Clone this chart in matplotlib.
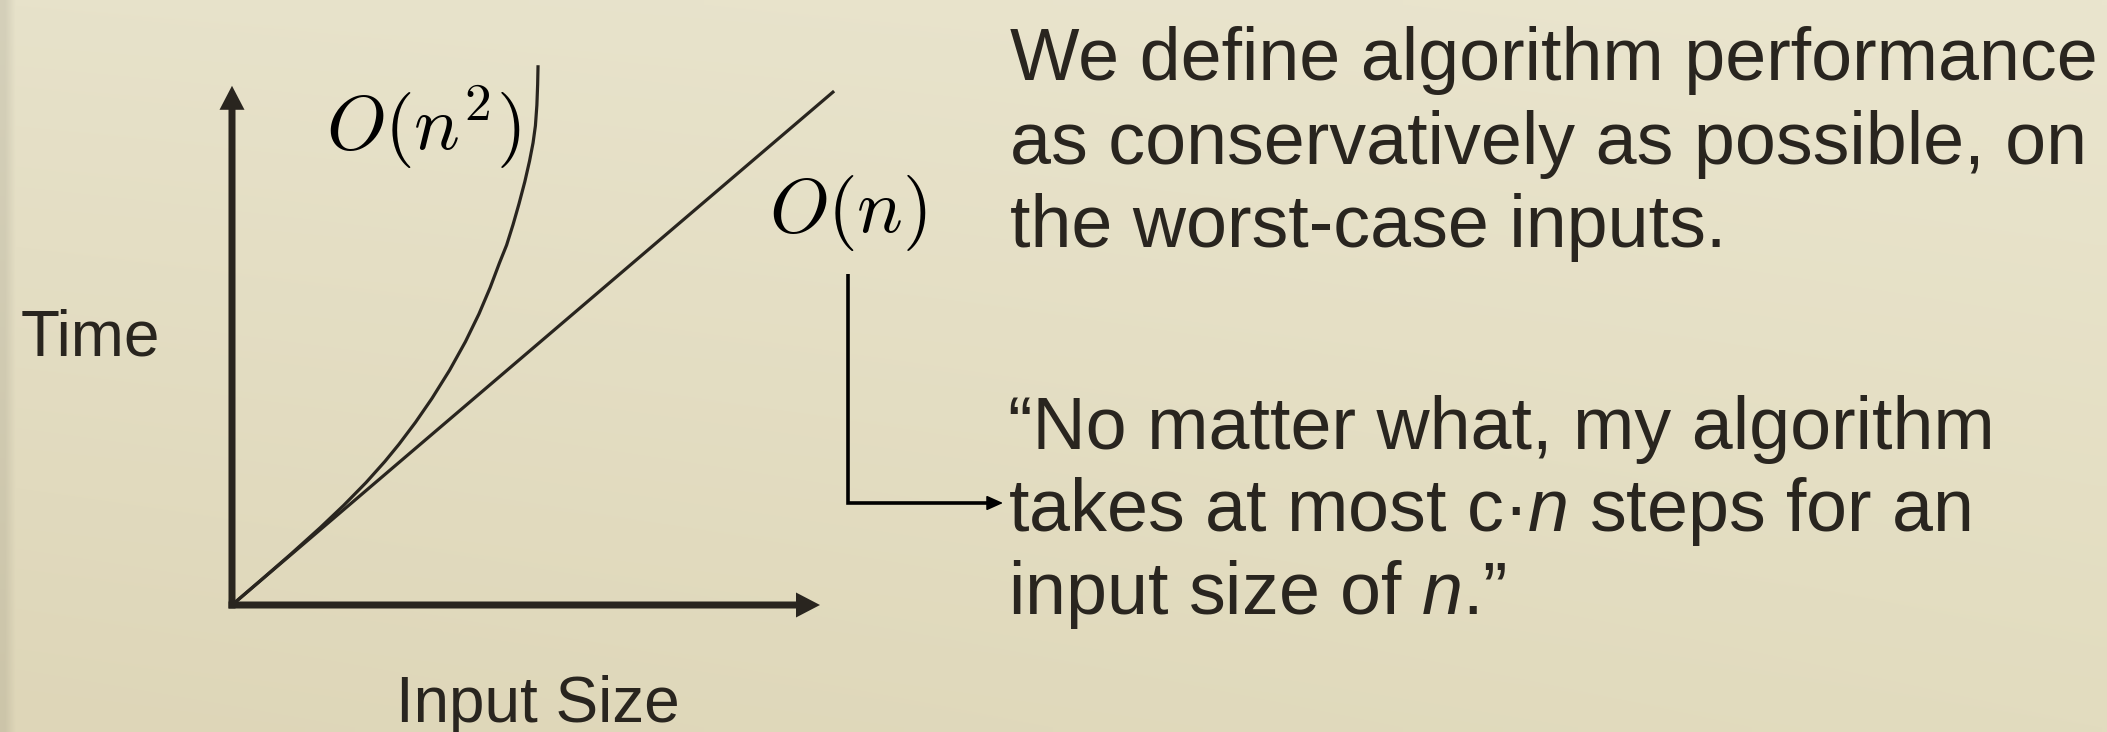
import numpy as np
import matplotlib
matplotlib.use("Agg")
import matplotlib.pyplot as plt
from matplotlib.lines import Line2D
from matplotlib.patches import FancyArrowPatch

W, H = 2107, 732
DPI = 100

INK = "#29251f"
SANS = "Liberation Sans"

# growth curves, in axis units (x axis arrow ends at 10)
lin_x = [0.0, 10.24]
lin_y = [0.0, 8.74]
quad_x = [0.0, 0.50, 1.00, 1.50, 1.90, 2.28, 2.60, 2.84, 3.12, 3.40, 3.70, 3.97,
	4.20, 4.39, 4.55, 4.67, 4.78, 4.88, 4.98, 5.06, 5.12, 5.16, 5.185, 5.198, 5.205]
quad_y = [0.0, 0.43, 0.865, 1.315, 1.695, 2.083, 2.441, 2.734, 3.106, 3.512, 3.992, 4.478,
	4.95, 5.397, 5.821, 6.12, 6.47, 6.82, 7.20, 7.55, 7.86, 8.15, 8.50, 8.85, 9.18]

x_axis_len = 10.0
y_axis_len = 8.83

axis_labels = ["Time", "Input Size"]
curve_labels = [r"$O(n^2)$", r"$O(n)$"]

para_top = [
	"We define algorithm performance",
	"as conservatively as possible, on",
	"the worst-case inputs.",
]
para_bottom = [
	"\u201cNo matter what, my algorithm",
	"takes at most c\u00b7$n$ steps for an",
	"input size of $n$.\u201d",
]

plt.rcParams["mathtext.fontset"] = "custom"
plt.rcParams["mathtext.rm"] = SANS
plt.rcParams["mathtext.it"] = SANS + ":italic"


def fx(px: float) -> float:
	return px / W


def fy(py: float) -> float:
	return 1 - py / H


def background(fig) -> None:
	bg = fig.add_axes([0, 0, 1, 1], zorder=-10)
	tl = np.array([231, 226, 202]) / 255
	tr = np.array([234, 229, 206]) / 255
	bl = np.array([222, 214, 184]) / 255
	br = np.array([226, 220, 191]) / 255
	u = np.linspace(0, 1, 200)[None, :, None]
	v = np.linspace(0, 1, 80)[:, None, None]
	img = (1 - v) * ((1 - u) * tl + u * tr) + v * ((1 - u) * bl + u * br)
	# darker strip on the left edge
	edge = np.clip(1 - u / 0.004, 0, 1) * 0.08
	img = img * (1 - edge)
	bg.imshow(img, aspect="auto", extent=[0, 1, 0, 1], interpolation="bilinear")
	bg.axis("off")


def graph(fig) -> None:
	unit = 58.8
	ox, oy = 232, 605
	left = ox - unit
	bottom = H - (oy + unit)
	ax = fig.add_axes([left / W, bottom / H, 12 * unit / W, 11 * unit / H])
	ax.set_xlim(-1, 11)
	ax.set_ylim(-1, 10)
	ax.axis("off")

	shaft = 7 / unit
	ax.arrow(-shaft / 2, 0, x_axis_len + shaft / 2, 0, width=shaft,
		head_width=25 / unit, head_length=24 / unit, length_includes_head=True,
		fc=INK, ec="none", zorder=3)
	ax.arrow(0, -shaft / 2, 0, y_axis_len + shaft / 2, width=shaft,
		head_width=25 / unit, head_length=24 / unit, length_includes_head=True,
		fc=INK, ec="none", zorder=3)

	ax.plot(lin_x, lin_y, color=INK, lw=2.3, solid_capstyle="butt", clip_on=False)
	ax.plot(quad_x, quad_y, color=INK, lw=2.3, solid_capstyle="butt",
		solid_joinstyle="round", clip_on=False)


def labels(fig) -> None:
	fig.text(fx(21), fy(355), axis_labels[0], fontsize=46, family=SANS,
		color=INK, va="baseline", ha="left")
	fig.text(fx(538), fy(722), axis_labels[1], fontsize=46, family=SANS,
		color=INK, va="baseline", ha="center")
	fig.text(fx(326), fy(150), curve_labels[0], fontsize=55, math_fontfamily="cm",
		color="black", va="baseline", ha="left")
	fig.text(fx(848), fy(232), curve_labels[1], fontsize=55, math_fontfamily="cm",
		color="black", va="baseline", ha="center")

	for line, y in zip(para_top, [80, 164, 247]):
		fig.text(fx(1010), fy(y), line, fontsize=53, family=SANS, color=INK,
			va="baseline", ha="left")
	for line, y in zip(para_bottom, [449, 531, 614]):
		fig.text(fx(1008), fy(y), line, fontsize=53, family=SANS, color=INK,
			va="baseline", ha="left")

	# pointer from O(n) to the quote
	fig.add_artist(Line2D([fx(848), fx(848), fx(990)], [fy(274), fy(503), fy(503)],
		transform=fig.transFigure, lw=2.6, color="black",
		solid_joinstyle="miter", solid_capstyle="butt"))
	fig.add_artist(FancyArrowPatch((fx(980), fy(503)), (fx(1003), fy(503)),
		transform=fig.transFigure, arrowstyle="-|>,head_length=10,head_width=4.5",
		mutation_scale=1, lw=1.2, color="black", shrinkA=0, shrinkB=0))


def main() -> int:
	fig = plt.figure(figsize=(W / DPI, H / DPI), dpi=DPI)
	background(fig)
	graph(fig)
	labels(fig)
	fig.savefig("out.png", dpi=DPI)
	return 0


if __name__ == "__main__":
	exit(main())
